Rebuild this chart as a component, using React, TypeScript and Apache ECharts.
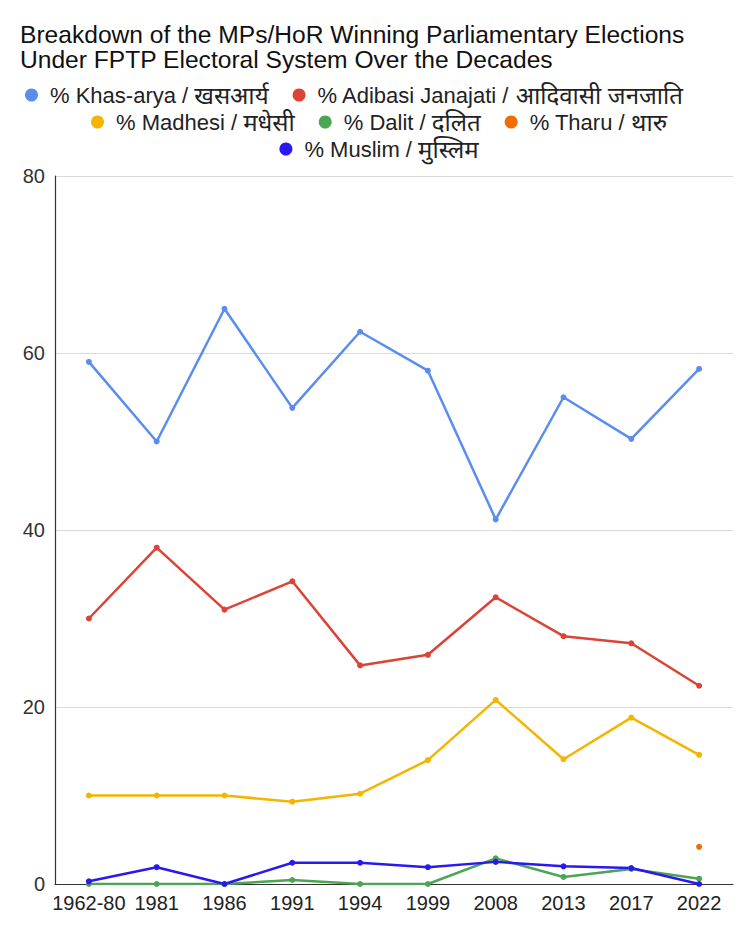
import React, { useEffect, useRef } from "react";
import * as echarts from "echarts";

const categories = ["1962-80", "1981", "1986", "1991", "1994", "1999", "2008", "2013", "2017", "2022"];
const khasArya = [59.0, 50.0, 65.0, 53.8, 62.4, 58.0, 41.2, 55.0, 50.3, 58.2];
const adibasi = [30.0, 38.0, 31.0, 34.2, 24.7, 25.9, 32.4, 28.0, 27.2, 22.4];
const madhesi = [10.0, 10.0, 10.0, 9.3, 10.2, 14.0, 20.8, 14.1, 18.8, 14.6];
const dalit = [0, 0, 0, 0.45, 0, 0, 2.9, 0.8, 1.7, 0.6];
const tharu = [null, null, null, null, null, null, null, null, null, 4.2];
const muslim = [0.3, 1.9, 0, 2.4, 2.4, 1.9, 2.5, 2.0, 1.8, 0];

const titleLines = [
  "Breakdown of the MPs/HoR Winning Parliamentary Elections",
  "Under FPTP Electoral System Over the Decades",
];
const names = [
  "% Khas-arya / खसआर्य",
  "% Adibasi Janajati / आदिवासी जनजाति",
  "% Madhesi / मधेसी",
  "% Dalit / दलित",
  "% Tharu / थारु",
  "% Muslim / मुस्लिम",
];
const colors = ["#5a8def", "#dc4336", "#f4b400", "#4ba553", "#f06d00", "#2a18f0"];
const FONT = "'Liberation Sans', Arial, 'Noto Sans', 'Noto Sans Devanagari', sans-serif";

export default function App() {
  const ref = useRef<HTMLDivElement>(null);
  useEffect(() => {
    if (!ref.current) return;
    const chart = echarts.init(ref.current, undefined, { renderer: "svg" });
    const values = [khasArya, adibasi, madhesi, dalit, tharu, muslim];
    const legendText = {
      fontSize: 22,
      color: "#222",
      fontFamily: FONT,
      rich: {
        a: { fontSize: 22, color: "#222", fontFamily: FONT, padding: [0, 0, 0, 7] },
        d: { fontSize: 24, color: "#222", fontFamily: FONT },
      },
    };
    const legendBase = {
      orient: "horizontal",
      icon: "circle",
      itemWidth: 13,
      itemHeight: 13,
      itemGap: 24,
      textStyle: legendText,
      padding: 0,
      formatter: (n: string) => {
        const idx = n.indexOf(" / ");
        return "{a|" + n.slice(0, idx + 3) + "}{d|" + n.slice(idx + 3) + "}";
      },
    };
    const titleStyle = { fontSize: 24.6, fontWeight: "normal", color: "#111", lineHeight: 24.6, fontFamily: FONT };
    chart.setOption({
      animation: false,
      color: colors,
      textStyle: { fontFamily: FONT },
      title: [
        { text: titleLines[0], left: 12, top: 14, padding: 0, textStyle: titleStyle },
        { text: titleLines[1], left: 12, top: 39.5, padding: 0, textStyle: titleStyle },
      ],
      legend: [
        { ...legendBase, left: 17, top: 75, data: [names[0], names[1]] },
        { ...legendBase, left: 83, top: 102, data: [names[2], names[3], names[4]] },
        { ...legendBase, left: "center", top: 129, data: [names[5]] },
      ],
      grid: { left: 47, right: 17, top: 168, bottom: 41 },
      xAxis: {
        type: "category",
        data: categories,
        boundaryGap: true,
        axisLine: { show: true, lineStyle: { color: "#333", width: 1.2 } },
        axisTick: { show: false },
        axisLabel: { fontSize: 20, color: "#222", margin: 9, fontFamily: FONT, interval: 0 },
      },
      yAxis: {
        type: "value",
        min: 0,
        max: 80,
        interval: 20,
        axisLine: { show: true, lineStyle: { color: "#333", width: 1.2 } },
        axisTick: { show: false },
        splitLine: { lineStyle: { color: "#d9d9d9", width: 1.2 } },
        axisLabel: { fontSize: 20, color: "#333", margin: 10, fontFamily: FONT },
      },
      series: names.map((n, i) => ({
        name: n,
        type: "line",
        data: values[i],
        symbol: "circle",
        symbolSize: 6,
        showSymbol: true,
        connectNulls: false,
        lineStyle: { width: 2.5, color: colors[i] },
        itemStyle: { color: colors[i] },
      })),
    });
    return () => chart.dispose();
  }, []);
  return <div ref={ref} style={{ width: 742, height: 917 }} />;
}
